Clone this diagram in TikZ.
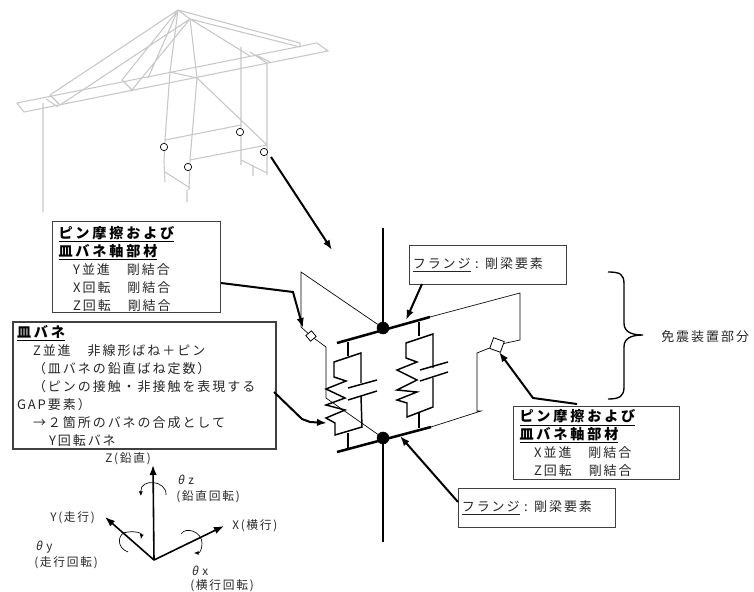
\documentclass[tikz,border=0pt]{standalone}
\usepackage{fontspec}
\usepackage{tikz}
\usetikzlibrary{arrows.meta,positioning,calc}
\newfontfamily\jp[LetterSpace=15]{Noto Sans CJK JP}
\newfontfamily\jphead[LetterSpace=20]{Noto Sans CJK JP}
\newfontfamily\jpsmall[LetterSpace=15]{Noto Sans CJK JP}
\newfontfamily\jpslant[FakeSlant=0.2]{Noto Sans CJK JP}
\newcommand{\boxfont}{\fontsize{9.75}{13.5}\selectfont\jp\color{black!85}}
\newcommand{\labfont}{\fontsize{8.8}{10}\selectfont\jpsmall\color{black!85}}
\newcommand{\headline}[1]{{\fontsize{10.6}{13.5}\selectfont\jphead\bfseries\color{black}\underline{#1}}}

\begin{document}
\begin{tikzpicture}
[x=0.75pt,y=-0.75pt,>={Latex[length=7.5pt,width=5.5pt]},
callout/.style = {draw=black!75, line width=0.75pt, anchor=north west, align=left, inner xsep=4.5pt, inner ysep=0pt, font=\boxfont},
flangebox/.style = {callout, minimum width=117.75pt, minimum height=29pt, text width=112.75pt, inner xsep=2.5pt},
lab/.style = {anchor=west, inner sep=0pt, font=\labfont},
crane/.style = {draw=black!22, line width=0.8pt},
joint/.style = {draw, shape=circle, fill=white, line width=0.5pt, minimum size=5.5pt, inner sep=0pt},
pin/.style = {draw, shape=rectangle, fill=white, line width=0.6pt, inner sep=0pt},
dot/.style = {draw, shape=circle, fill=black, minimum size=9pt, inner sep=0pt},
thin line/.style = {draw, line width=0.5pt},
spring/.style = {draw, line width=1.1pt},
lead/.style = {draw, ->, line width=1.5pt},
axis/.style = {draw, ->, line width=1.2pt},
turn/.style = {draw, -{Latex[length=3.5pt,width=3pt]}, line width=0.5pt}]
\useasboundingbox (0,0) rectangle (754,592);

% crane
\path[crane] (17,103)--(317,43)--(328,51)--(24,112)--cycle;
\path[crane] (178,10)--(50,95) (190,19)--(60,105) (178,10)--(122,80) (190,19)--(132,90)
 (178,10)--(148,78) (178,10)--(300,43)--(300,47) (190,19)--(300,47) (190,19)--(250,56)
 (178,10)--(190,19)
 (50,95)--(60,105) (122,80)--(132,90)
 (170,72)--(197,78) (250,52)--(267,63)
 (46,99)--(58,107) (256,55)--(270,62);
\path[crane] (178,10)--(170,72)--(165,140)--(164,162)--(165,182)
 (190,19)--(197,78)--(190,160)--(189,190)
 (241,47)--(241,123)--(241,165)
 (267,63)--(267,145)--(267,175)
 (197,78)--(267,145)
 (165,140)--(241,125) (190,160)--(267,145)
 (165,172)--(190,188) (241,160)--(267,173)
 (43,103)--(43,212) (187,190)--(187,202) (253,165)--(253,176);
\node[joint](j1) at (164,147){};
\node[joint](j2) at (188,167){};
\node[joint](j3) at (240,132){};
\node[joint](j4) at (264,152){};

% isolator
\node[dot](top) at (383,328){};
\node[dot](bot) at (383,438){};
\node[pin, minimum size=5.5pt, rotate=40](pinL) at (311,336){};
\node[pin, minimum size=8.5pt, rotate=-20](pinR) at (497,345){};
\coordinate (ptop) at (383,228);
\coordinate (pbot) at (383,542);
\coordinate (ft1) at (337,343);
\coordinate (ft2) at (430,317);
\coordinate (fb1) at (337,452);
\coordinate (fb2) at (431,427);
\path[draw, line width=1.5pt] (ptop)--(top) (bot)--(pbot);
\path[draw, line width=1.9pt] (ft1)--(ft2) (fb1)--(fb2);

\path[thin line] (top)--(301,272)--(301,327)--(pinL)--(326,347)--(326,398)--(bot);
\path[thin line] (ft2)--(520,293)--(520,340)--(pinR)--(477,353)--(477,411)--(481,411)--(fb2);

% left unit
\path[spring] (348,342)--(348,356);
\path[spring] (361,383)--(361,353)--(334,362)--(334,377)--(346,381)--(326,389)--(345,398)--(326,405)--(345,410)--(326,418)--(335,423)--(335,435)--(362,427)--(361,396);
\path[spring] (348,388)--(377,380) (348,400)--(377,391);
\path[spring] (348,433)--(348,448);
% right unit
\path[spring] (419,322)--(419,336);
\path[spring] (433,368)--(433,334)--(406,343)--(406,358)--(417,362)--(397,370)--(417,380)--(397,390)--(417,392)--(397,400)--(407,403)--(407,417)--(433,407)--(433,378);
\path[spring] (420,370)--(448,362) (420,381)--(448,372);
\path[spring] (419,413)--(419,428);

% boxes
\node[callout, minimum width=126pt, minimum height=68.25pt, text width=117pt](boxA) at (52,221){%
\rule{0pt}{12pt}\headline{ピン摩擦および}\\
\headline{皿バネ軸部材}\\
\hspace*{11pt}Y並進　剛結合\\
\hspace*{11pt}X回転　剛結合\\
\hspace*{11pt}Z回転　剛結合};
\node[callout, line width=1.5pt, inner xsep=3pt, minimum width=197.25pt, minimum height=95.25pt, text width=191.25pt](boxB) at (12,321){%
\headline{皿バネ}\\
\hspace*{12pt}Z並進　非線形ばね＋ピン\\
\hspace*{12pt}（皿バネの鉛直ばね定数）\\
\hspace*{12pt}（ピンの接触・非接触を表現する\\
GAP要素）\\
\hspace*{12pt}→２箇所のバネの合成として\\
\hspace*{24pt}Y回転バネ};
\node[callout, minimum width=124.5pt, minimum height=54.75pt, text width=115.5pt](boxC) at (513,406){%
\headline{ピン摩擦および}\\
\headline{皿バネ軸部材}\\
\hspace*{11pt}X並進　剛結合\\
\hspace*{11pt}Z回転　剛結合};
\node[flangebox](boxD) at (409,245){\underline{フランジ} : 剛梁要素};
\node[flangebox](boxE) at (458,488){\underline{フランジ} : 剛梁要素};

% leaders
\coordinate (craneEnd) at (271,157);
\coordinate (craneTip) at (332,250);
\path[lead] (craneEnd)--(craneTip);
\path[lead] (boxA.east |- 0,283)--(293,292)--(303,328);
\path[lead] (274,392)--(302,419)--(310,422)--(327,423);
\path[lead] (422,284)--(406,320);
\path[lead] (458,502)--(400,436);
\path[lead] (577,404)--(533,398)--(499,352);

% brace
\path[draw, line width=1pt] (608,272) .. controls (620,272) and (624,274) .. (624,284)--(624,323)
 .. controls (624,331) and (630,335) .. (643,335) .. controls (630,335) and (624,339) .. (624,347)--(624,387)
 .. controls (624,396) and (620,399) .. (608,399);
\node[lab, font=\boxfont](iso) at (661,337){免震装置部分};

% axes
\coordinate (O) at (154,560);
\coordinate (Z) at (153,465);
\coordinate (Y) at (105,517);
\coordinate (X) at (224,526);
\path[axis] (O)--(Z);
\path[axis] (O)--(Y);
\path[axis] (O)--(X);
\path[turn] (166,495) .. controls (167,480) and (140,478) .. (141,496);
\path[turn] (128,552) .. controls (116,548) and (117,532) .. (128,532) .. controls (136,531) and (142,533) .. (141,539);
\path[turn] (181,534) .. controls (186,526) and (202,532) .. (202,543) .. controls (202,549) and (200,553) .. (194,553);
\node[lab](lz) at (105,459){Z(鉛直)};
\node[lab](lty) at (50,518){Y(走行)};
\node[lab](lx) at (232,526){X(横行)};
\node[lab](tz) at (177,480){{\jpslant θ} z};
\node[lab](tzb) at (176,497){(鉛直回転)};
\node[lab](ty) at (35,547){{\jpslant θ} y};
\node[lab](tyb) at (34,563){(走行回転)};
\node[lab](tx) at (191,571){{\jpslant θ} x};
\node[lab](txb) at (190,586){(横行回転)};
\end{tikzpicture}
\end{document}
